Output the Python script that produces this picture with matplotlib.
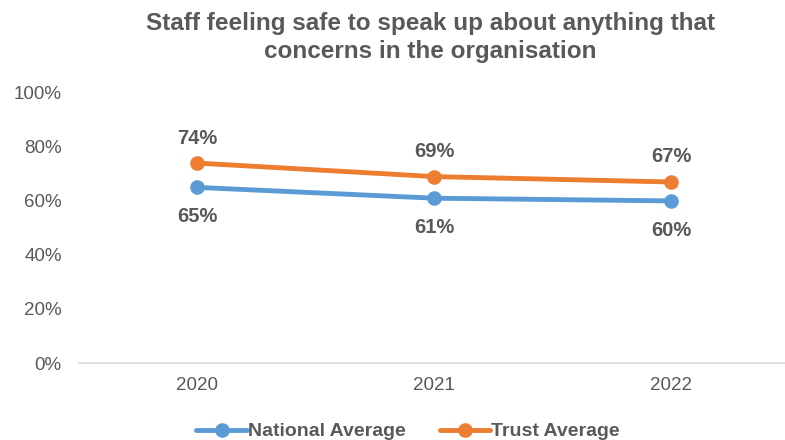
import matplotlib.pyplot as plt
from matplotlib.ticker import PercentFormatter

plt.rcParams['font.family'] = ['Liberation Sans', 'DejaVu Sans']

# Survey results by year
years = ['2020', '2021', '2022']
national = [65, 61, 60]
trust = [74, 69, 67]

grey = '#595959'
blue = '#5B9BD5'
orange = '#ED7D31'

fig = plt.figure(figsize=(7.85, 4.4), dpi=100)
ax = fig.add_axes([0.1, 0.175, 0.906, 0.614])

x = range(len(years))
ax.plot(x, national, color=blue, lw=3.5, marker='o', ms=9.5, label='National Average', solid_capstyle='round')
ax.plot(x, trust, color=orange, lw=3.5, marker='o', ms=9.5, label='Trust Average', solid_capstyle='round')

# Data labels: trust above, national below
for i, v in enumerate(trust):
    ax.annotate(f'{v}%', (i, v), xytext=(0, 18), textcoords='offset points',
                ha='center', va='center', fontsize=14.5, fontweight='bold', color=grey)
for i, v in enumerate(national):
    ax.annotate(f'{v}%', (i, v), xytext=(0, -21), textcoords='offset points',
                ha='center', va='center', fontsize=14.5, fontweight='bold', color=grey)

ax.set_xlim(-0.5, 2.5)
ax.set_ylim(0, 100)
ax.set_yticks(range(0, 101, 20))
ax.yaxis.set_major_formatter(PercentFormatter(decimals=0))
ax.set_xticks(list(x))
ax.set_xticklabels(years)
ax.tick_params(length=0, labelsize=13.5, colors=grey)
ax.tick_params(axis='x', pad=10)
ax.tick_params(axis='y', pad=12)

for side in ['top', 'right', 'left']:
    ax.spines[side].set_visible(False)
ax.spines['bottom'].set_color('#D9D9D9')
ax.spines['bottom'].set_linewidth(1.2)

fig.text(0.548, 0.915, 'Staff feeling safe to speak up about anything that\nconcerns in the organisation',
         ha='center', va='center', fontsize=17.5, fontweight='bold', color=grey, linespacing=1.3)

fig.legend(loc='center', bbox_to_anchor=(0.52, 0.019), ncol=2, frameon=False,
           prop={'size': 14, 'weight': 'bold'}, labelcolor=grey, handlelength=2.6,
           handletextpad=0.05, columnspacing=1.75, borderpad=0)

fig.savefig('out.png', dpi=100)
